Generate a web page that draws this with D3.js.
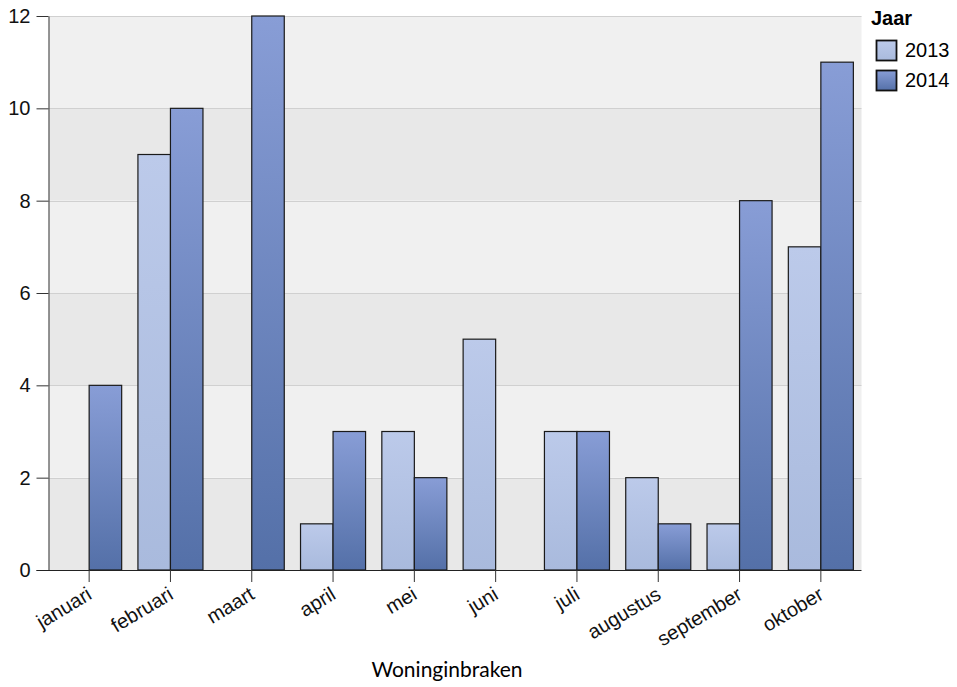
<!DOCTYPE html>
<html><head><meta charset="utf-8">
<script src="https://cdn.jsdelivr.net/npm/d3@7"></script>
<style>body{margin:0;background:#fff}</style>
</head><body>
<svg id="c" width="957" height="687"></svg>
<script>
const months = ["januari","februari","maart","april","mei","juni","juli","augustus","september","oktober"];
const years = ["2013","2014"];
const values2013 = [0,9,0,1,3,5,3,2,1,7];
const values2014 = [4,10,12,3,2,0,3,1,8,11];
const yTicks = [0,2,4,6,8,10,12];
const xTitle = "Woninginbraken";
const legendTitle = "Jaar";

const svg = d3.select("#c");
const FONT = "'Liberation Sans', Arial, sans-serif";
const L = 48.5, R = 861.5, T = 16, B = 570;
const x = d3.scaleBand().domain(months).range([L, R]).paddingInner(0.2).paddingOuter(0.1);
const xs = d3.scaleBand().domain(years).range([0, x.bandwidth()]);
const y = d3.scaleLinear().domain([0, 12]).range([B, T]);

const defs = svg.append("defs");
const grads = {
  "2013": ["#bccaea", "#a9badd"],
  "2014": ["#889dd6", "#5470a8"]
};
years.forEach(k => {
  const g = defs.append("linearGradient").attr("id", "g" + k).attr("x1", 0).attr("y1", 0).attr("x2", 0).attr("y2", 1);
  g.append("stop").attr("offset", "0%").attr("stop-color", grads[k][0]);
  g.append("stop").attr("offset", "100%").attr("stop-color", grads[k][1]);
});

// background bands
for (let i = 0; i < yTicks.length - 1; i++) {
  svg.append("rect").attr("x", L).attr("width", R - L)
    .attr("y", y(yTicks[i + 1])).attr("height", y(yTicks[i]) - y(yTicks[i + 1]))
    .attr("fill", i % 2 === 0 ? "#e8e8e8" : "#f0f0f0");
}
// gridlines
svg.append("g").selectAll("line").data(yTicks.slice(1)).join("line")
  .attr("x1", L).attr("x2", R).attr("y1", d => Math.round(y(d)) + 0.5).attr("y2", d => Math.round(y(d)) + 0.5)
  .attr("stroke", "#d0d0d0").attr("stroke-width", 1);

// bars
const data = [];
months.forEach((m, i) => {
  data.push({ m, k: "2013", v: values2013[i] });
  data.push({ m, k: "2014", v: values2014[i] });
});
svg.append("g").selectAll("rect").data(data.filter(d => d.v > 0)).join("rect")
  .attr("x", d => x(d.m) + xs(d.k))
  .attr("width", xs.bandwidth())
  .attr("y", d => y(d.v))
  .attr("height", d => y(0) - y(d.v))
  .attr("fill", d => "url(#g" + d.k + ")")
  .attr("stroke", "#1a1a1a").attr("stroke-width", 1.2);

// y axis
const ya = svg.append("g").attr("transform", `translate(${L},0)`)
  .call(d3.axisLeft(y).tickValues(yTicks).tickSize(12).tickPadding(6).tickSizeOuter(0));
ya.select(".domain").attr("stroke", "#333");
ya.selectAll(".tick line").attr("stroke", "#333");
ya.selectAll("text").attr("font-family", FONT).attr("font-size", 20).attr("fill", "#111");

// x axis
const xa = svg.append("g").attr("transform", `translate(0,${B})`)
  .call(d3.axisBottom(x).tickSize(12).tickSizeOuter(0).tickPadding(4));
xa.select(".domain").attr("stroke", "#222").attr("d", `M${L - 12},0.5H${R}`);
xa.selectAll(".tick line").attr("stroke", "#333");
xa.selectAll("text").attr("font-family", FONT).attr("font-size", 20).attr("fill", "#111")
  .attr("text-anchor", "end").attr("dy", 0).attr("y", 0)
  .attr("transform", "translate(4,28) rotate(-31)");

// x title
svg.append("text").attr("x", 447).attr("y", 677).attr("text-anchor", "middle")
  .attr("font-family", "Lato, 'Open Sans', sans-serif").attr("font-size", 21).attr("fill", "#000").text(xTitle);

// legend
const lg = svg.append("g");
lg.append("text").attr("x", 871).attr("y", 25).attr("font-family", FONT)
  .attr("font-weight", "bold").attr("font-size", 20).text(legendTitle);
years.forEach((k, i) => {
  lg.append("rect").attr("x", 876.5).attr("y", 40.5 + i * 30).attr("width", 20).attr("height", 20)
    .attr("fill", "url(#g" + k + ")").attr("stroke", "#111").attr("stroke-width", 1.8);
  lg.append("text").attr("x", 905).attr("y", 57 + i * 30).attr("font-family", FONT)
    .attr("font-size", 20).text(k);
});
</script>
</body></html>
